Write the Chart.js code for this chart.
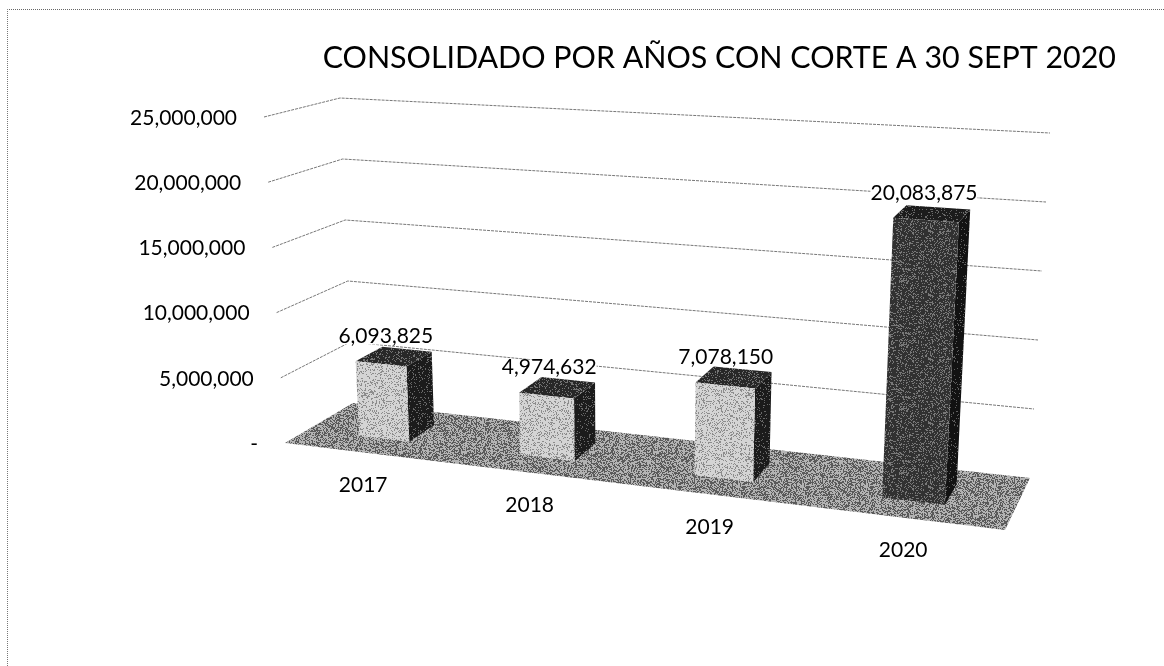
<!DOCTYPE html>
<html>
<head>
<meta charset="utf-8">
<title>Consolidado por años</title>
<script src="https://cdn.jsdelivr.net/npm/chart.js@4"></script>
<style>
    body { margin: 0; background: #fff; }
    canvas { display: block; }
    .scan-edge { position: absolute; left: 7px; top: 9px; right: 0; bottom: 0; border-top: 1px dotted #666; border-left: 1px dotted #777; }
</style>
</head>
<body>
<div class="scan-edge"></div>
<canvas id="consolidadoChart" width="1164" height="666"></canvas>
<script>
const titleText = 'CONSOLIDADO POR AÑOS CON CORTE A 30 SEPT 2020';
const years = ['2017', '2018', '2019', '2020'];
const totals = [6093825, 4974632, 7078150, 20083875];
const axisMax = 25000000;
const axisStep = 5000000;

// The 3D box the chart sits in, as seen on screen: [floor point, top point]
const frontLeft = [[285, 443], [264, 117]];
const frontRight = [[1005, 530], [1027, 161]];
const backLeft = [[353, 403], [340, 98]];
const backRight = [[1030, 478], [1050, 133]];
const barFrontDepth = 0.33;
const barBackDepth = 0.73;
const barTopInset = 0.012;

function mix(a, b, t) {
    return a + (b - a) * t;
}

// u: along the years, v: up the value axis, d: into the picture (all 0..1)
function project(u, v, d) {
    const w = 0.85 * u + 0.15 * u * u; // right side is nearer the viewer
    return [0, 1].map(i => {
        const front = mix(mix(frontLeft[0][i], frontRight[0][i], w), mix(frontLeft[1][i], frontRight[1][i], w), v);
        const back = mix(mix(backLeft[0][i], backRight[0][i], w), mix(backLeft[1][i], backRight[1][i], w), v);
        return mix(front, back, d);
    });
}

// Grainy fill so the faces look like the photocopied halftone
function stipple(ctx, tone, contrast) {
    const tile = document.createElement('canvas');
    tile.width = tile.height = 64;
    const t = tile.getContext('2d');
    for (let x = 0; x < 64; x++) {
        for (let y = 0; y < 64; y++) {
            const s = Math.sin(x * 12.9898 + y * 78.233) * 43758.5453;
            const speck = s - Math.floor(s) < tone / 255 ? 255 : 0;
            const g = Math.round(mix(tone, speck, contrast));
            t.fillStyle = `rgb(${g},${g},${g})`;
            t.fillRect(x, y, 1, 1);
        }
    }
    return ctx.createPattern(tile, 'repeat');
}

function fillFace(ctx, points, fill) {
    ctx.beginPath();
    points.forEach((p, i) => i ? ctx.lineTo(p[0], p[1]) : ctx.moveTo(p[0], p[1]));
    ctx.closePath();
    ctx.fillStyle = fill;
    ctx.fill();
}

const perspectivePlugin = {
    id: 'perspective',
    beforeDatasetsDraw(chart) {
        const { ctx, chartArea, scales } = chart;
        const toU = px => (px - chartArea.left) / chartArea.width;
        const toV = py => (chartArea.bottom - py) / chartArea.height;

        ctx.save();

        // Floor
        fillFace(ctx, [project(0, 0, 0), project(1, 0, 0), project(1, 0, 1), project(0, 0, 1)], stipple(ctx, 138, 0.35));

        // Grid lines and value labels
        ctx.font = '21px Lato';
        ctx.fillStyle = '#000';
        ctx.textAlign = 'right';
        ctx.textBaseline = 'middle';
        scales.y.ticks.forEach(tick => {
            const v = toV(scales.y.getPixelForValue(tick.value));
            const start = project(0, v, 0);
            if (tick.value > 0) {
                const corner = project(0, v, 1);
                const end = project(1, v, 1);
                ctx.beginPath();
                ctx.moveTo(start[0], start[1]);
                ctx.lineTo(corner[0], corner[1]);
                ctx.lineTo(end[0], end[1]);
                ctx.strokeStyle = '#777';
                ctx.lineWidth = 1;
                ctx.setLineDash([3, 1]);
                ctx.stroke();
                ctx.setLineDash([]);
            }
            ctx.fillStyle = '#000';
            ctx.fillText(tick.label, start[0] - 27, start[1] + 1);
        });

        // Bars
        const bars = chart.getDatasetMeta(0).data;
        bars.forEach((bar, i) => {
            const left = toU(bar.x - bar.width / 2);
            const right = toU(bar.x + bar.width / 2);
            const top = toV(bar.y) - barTopInset;
            const isCurrent = i === bars.length - 1;
            const d0 = barFrontDepth;
            const d1 = barBackDepth;

            fillFace(ctx, [project(right, 0, d0), project(right, 0, d1), project(right, top, d1), project(right, top, d0)],
                stipple(ctx, isCurrent ? 25 : 38, 0.3));
            fillFace(ctx, [project(left, top, d0), project(right, top, d0), project(right, top, d1), project(left, top, d1)],
                stipple(ctx, isCurrent ? 40 : 55, 0.3));
            fillFace(ctx, [project(left, 0, d0), project(right, 0, d0), project(right, top, d0), project(left, top, d0)],
                stipple(ctx, isCurrent ? 68 : 195, 0.28));

            // Year under the front edge of the floor
            const mid = toU(bar.x);
            const yearPos = project(mid, 0, 0);
            ctx.fillStyle = '#000';
            ctx.textAlign = 'center';
            ctx.fillText(scales.x.getLabelForValue(i), yearPos[0], yearPos[1] + 33);

            // Value above the bar, on a white patch like the original
            const labelPos = project(mid, top, (d0 + d1) / 2);
            const label = totals[i].toLocaleString('en-US');
            const labelWidth = ctx.measureText(label).width;
            ctx.fillStyle = '#fff';
            ctx.fillRect(labelPos[0] - 8 - labelWidth / 2, labelPos[1] - 28, labelWidth, 16);
            ctx.fillStyle = '#000';
            ctx.fillText(label, labelPos[0] - 8, labelPos[1] - 20);
        });

        ctx.restore();
        return false;
    }
};

new Chart(document.getElementById('consolidadoChart'), {
    type: 'bar',
    data: {
        labels: years,
        datasets: [{
            label: 'Consolidado',
            data: totals,
            categoryPercentage: 1,
            barPercentage: 0.32
        }]
    },
    options: {
        responsive: false,
        animation: false,
        layout: { padding: { right: 48 } },
        plugins: {
            legend: { display: false },
            tooltip: { enabled: false },
            title: {
                display: true,
                text: titleText,
                align: 'end',
                color: '#000',
                font: { family: 'Lato', size: 30.4, weight: 'normal' },
                padding: { top: 40, bottom: 10 }
            }
        },
        scales: {
            x: { display: false },
            y: {
                display: false,
                min: 0,
                max: axisMax,
                ticks: {
                    stepSize: axisStep,
                    callback: value => value === 0 ? '-' : value.toLocaleString('en-US')
                }
            }
        }
    },
    plugins: [perspectivePlugin]
});
</script>
</body>
</html>
